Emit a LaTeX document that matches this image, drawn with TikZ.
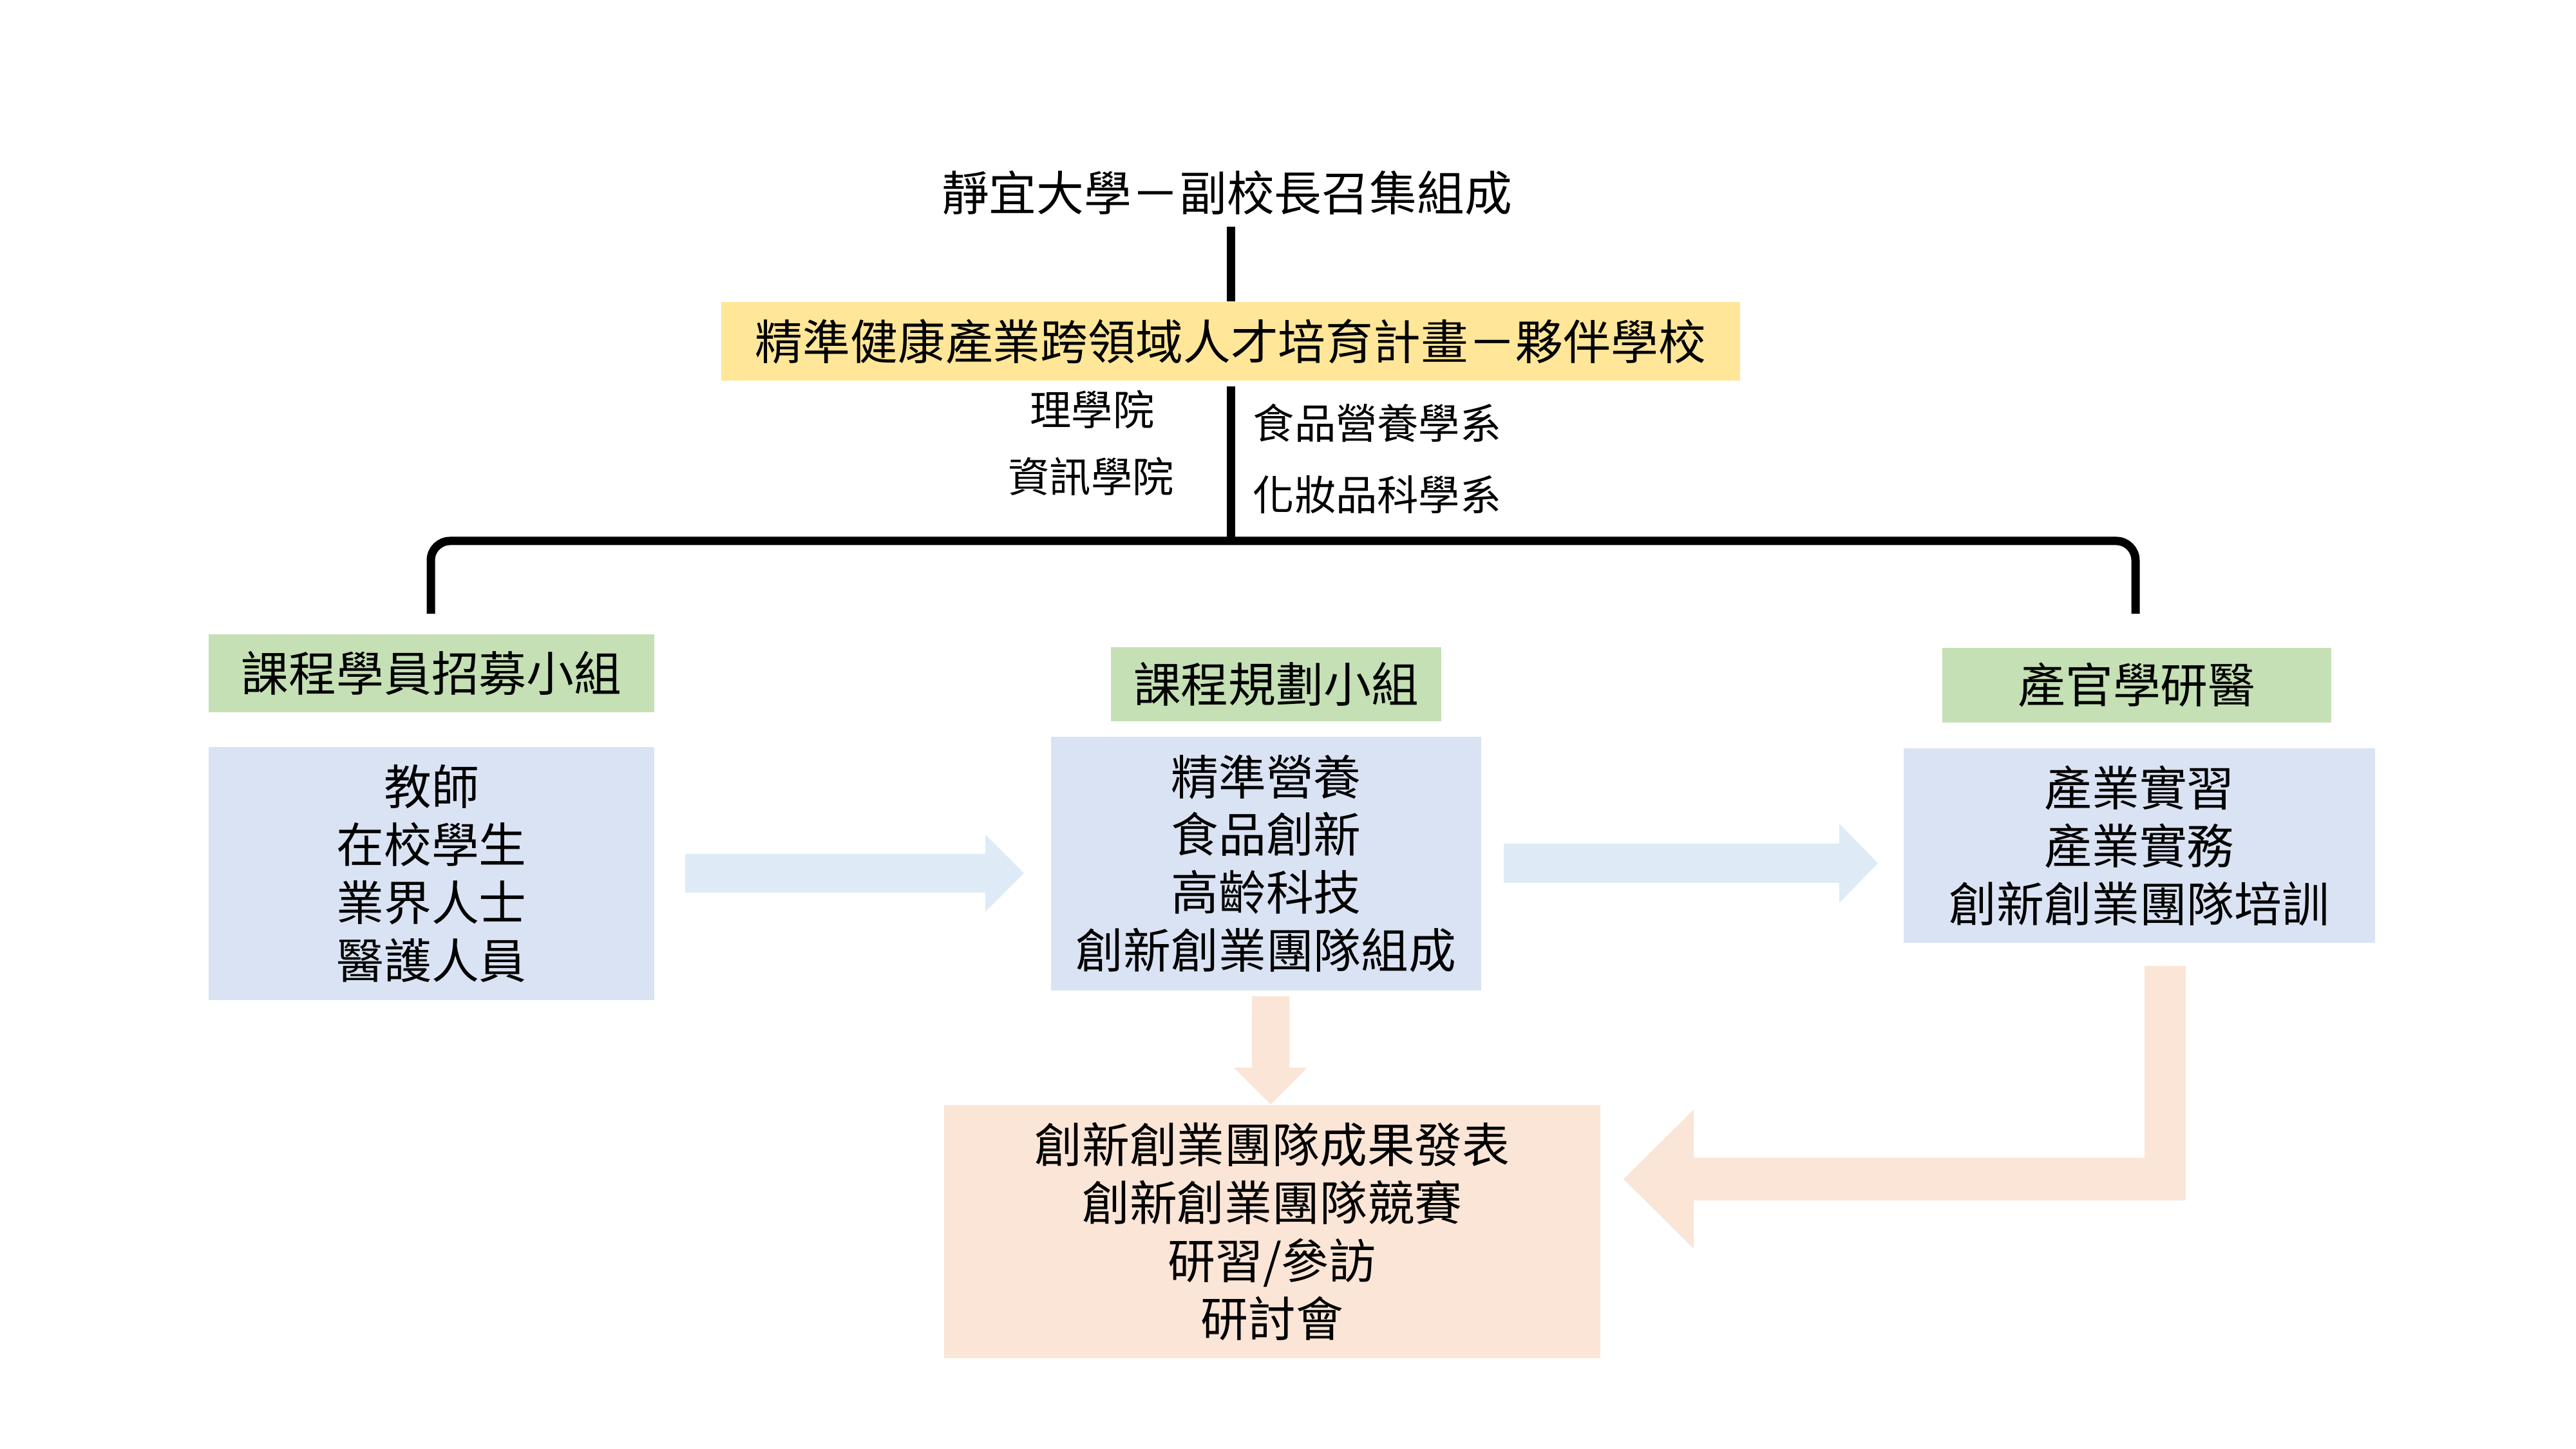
\documentclass[tikz,border=0pt]{standalone}
\usepackage{fontspec}
\setmainfont{Noto Sans CJK TC}
\usepackage{tikz}
\usetikzlibrary{positioning}

\definecolor{planyellow}{HTML}{FFE699}
\definecolor{groupgreen}{HTML}{C5E0B4}
\definecolor{itemblue}{HTML}{DAE3F3}
\definecolor{arrowblue}{HTML}{DEEBF7}
\definecolor{resultpeach}{HTML}{FBE5D6}

\begin{document}
\begin{tikzpicture}[
        cjk/.style={font=\fontsize{21pt}{25.6pt}\selectfont},
        sublabel/.style={font=\fontsize{18.3pt}{22pt}\selectfont, inner sep=0pt},
        headbox/.style={cjk, fill=groupgreen},
        itembox/.style={cjk, fill=itemblue, align=center},
        bar/.style={line width=3.7pt}
    ]
            \useasboundingbox (0,0) rectangle (40,22.5);

            % top of the chart
            \node[cjk] (title) at (19.05,19.5) {靜宜大學－副校長召集組成};
            \node[cjk, fill=planyellow, minimum width=15.82cm, minimum height=1.22cm] (plan) at (19.11,17.2) {精準健康產業跨領域人才培育計畫－夥伴學校};
            \coordinate (titlefoot) at (19.11,18.98);
            \draw [bar] (titlefoot) -- (titlefoot |- plan.north);

            \node[sublabel] (sci) at (16.96,16.14) {理學院};
            \node[sublabel] (info) at (16.94,15.10) {資訊學院};
            \node[sublabel, anchor=west] (food) at (19.45,15.93) {食品營養學系};
            \node[sublabel, anchor=west] (cosm) at (19.45,14.82) {化妝品科學系};

            % fork
            \coordinate (fork) at (19.11,14.10);
            \coordinate (leftend) at (6.69,12.97);
            \coordinate (rightend) at (33.16,12.97);
            \draw [bar] ([yshift=-0.08cm]plan.south) -- (fork);
            \draw [bar, rounded corners=0.3cm] (leftend) |- (fork) -| (rightend);

            % three groups
            \node[headbox, minimum width=6.92cm, minimum height=1.21cm] (recruit) at (6.70,12.045) {課程學員招募小組};
            \node[itembox, minimum width=6.92cm, minimum height=3.93cm] (members) at (6.70,8.935) {教師\\在校學生\\業界人士\\醫護人員};

            \node[headbox, minimum width=5.13cm, minimum height=1.15cm] (planning) at (19.815,11.875) {課程規劃小組};
            \node[itembox, minimum width=6.68cm, minimum height=3.94cm] (topics) at (19.66,9.09) {精準營養\\食品創新\\高齡科技\\創新創業團隊組成};

            \node[headbox, minimum width=6.04cm, minimum height=1.16cm] (partners) at (33.18,11.86) {產官學研醫};
            \node[itembox, minimum width=7.32cm, minimum height=3.02cm] (practice) at (33.22,9.37) {產業實習\\產業實務\\創新創業團隊培訓};

            \node[cjk, fill=resultpeach, align=center, minimum width=10.19cm, minimum height=3.93cm] (results) at (19.755,3.375) {創新創業團隊成果發表\\創新創業團隊競賽\\研習/參訪\\研討會};

            % block arrows
            \fill [arrowblue] (10.64,8.64) -- (15.30,8.64) -- (15.30,8.34) -- (15.90,8.94) -- (15.30,9.54) -- (15.30,9.24) -- (10.64,9.24) -- cycle;
            \fill [arrowblue] (23.35,8.79) -- (28.56,8.79) -- (28.56,8.48) -- (29.16,9.095) -- (28.56,9.71) -- (28.56,9.40) -- (23.35,9.40) -- cycle;
            \fill [resultpeach] (19.44,7.03) -- (20.02,7.03) -- (20.02,5.92) -- (20.30,5.92) -- (19.73,5.35) -- (19.16,5.92) -- (19.44,5.92) -- cycle;
            \fill [resultpeach] (33.30,7.5) -- (33.94,7.5) -- (33.94,3.86) -- (26.30,3.86) -- (26.30,3.11) -- (25.21,4.19) -- (26.30,5.27) -- (26.30,4.52) -- (33.30,4.52) -- cycle;
        \end{tikzpicture}
\end{document}
